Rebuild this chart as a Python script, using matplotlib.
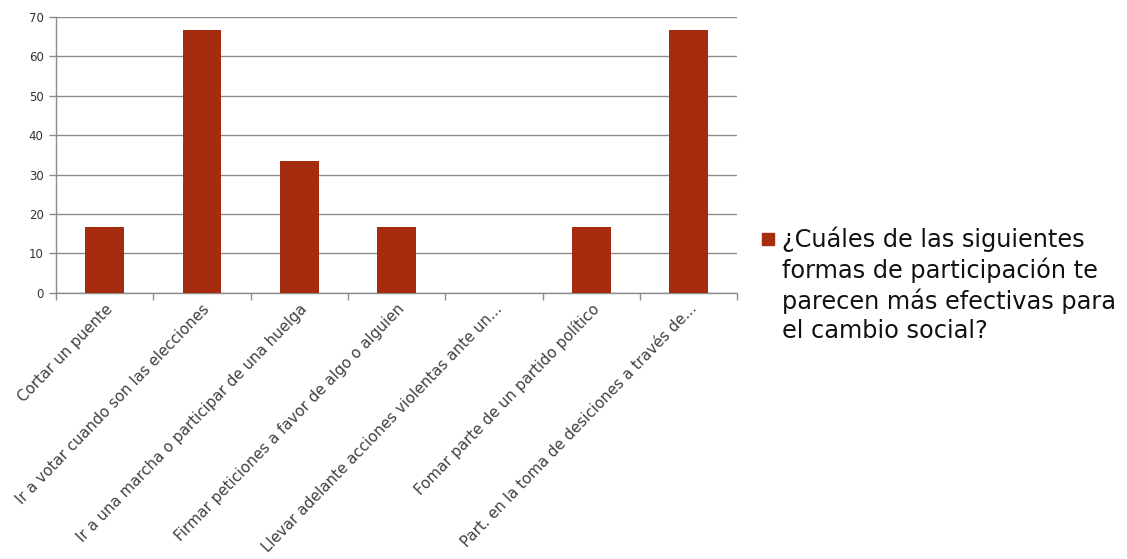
import matplotlib.pyplot as plt
from matplotlib.patches import Rectangle
from matplotlib.transforms import ScaledTranslation

categorias = [
    "Cortar un puente",
    "Ir a votar cuando son las elecciones",
    "Ir a una marcha o participar de una huelga",
    "Firmar peticiones a favor de algo o alguien",
    "Llevar adelante acciones violentas ante un...",
    "Fomar parte de un partido político",
    "Part. en la toma de desiciones a través de...",
]
valores = [16.67, 66.67, 33.33, 16.67, 0, 16.67, 66.67]
serie = "¿Cuáles de las siguientes\nformas de participación te\nparecen más efectivas para\nel cambio social?"
yticks = [0, 10, 20, 30, 40, 50, 60, 70]

color_barra = "#A52C0F"
gris = "#8C8C8C"

plt.rcParams['font.family'] = ['DejaVu Sans']

fig = plt.figure(figsize=(11.27, 5.59), dpi=100)
ax = fig.add_axes([0.0497, 0.476, 0.6045, 0.494])

x = range(len(categorias))
ax.bar(x, valores, width=0.4, color=color_barra, zorder=3)

ax.set_xlim(-0.5, len(categorias) - 0.5)
ax.set_ylim(0, 70)
ax.set_yticks(yticks)
ax.yaxis.grid(True, color=gris, linewidth=1, zorder=0)

ax.set_xticks(list(x))
ax.set_xticklabels(categorias, rotation=46, ha='right', rotation_mode='anchor',
                   fontsize=10.8, color='#404040')
desplaz = ScaledTranslation(19 / 100, 0, fig.dpi_scale_trans)
for lbl in ax.get_xticklabels():
    lbl.set_transform(lbl.get_transform() + desplaz)
ax.set_xticks([i - 0.5 for i in range(len(categorias) + 1)], minor=True)
ax.tick_params(axis='x', which='major', length=0, pad=6)
ax.tick_params(axis='x', which='minor', length=5, color=gris, width=1)
ax.tick_params(axis='y', length=5, color=gris, width=1, labelsize=8.5,
               labelcolor='#333333', pad=4)

for s in ['top', 'right']:
    ax.spines[s].set_visible(False)
for s in ['left', 'bottom']:
    ax.spines[s].set_color(gris)
    ax.spines[s].set_linewidth(1)

# leyenda
fig.patches.append(Rectangle((762 / 1127, 1 - 245 / 559), 12 / 1127, 12 / 559,
                             transform=fig.transFigure, color=color_barra))
fig.text(782 / 1127, 1 - 226 / 559, serie, fontsize=17.3, va='top', ha='left',
         color='#111111', linespacing=1.28)

fig.savefig("out.png", dpi=100)
